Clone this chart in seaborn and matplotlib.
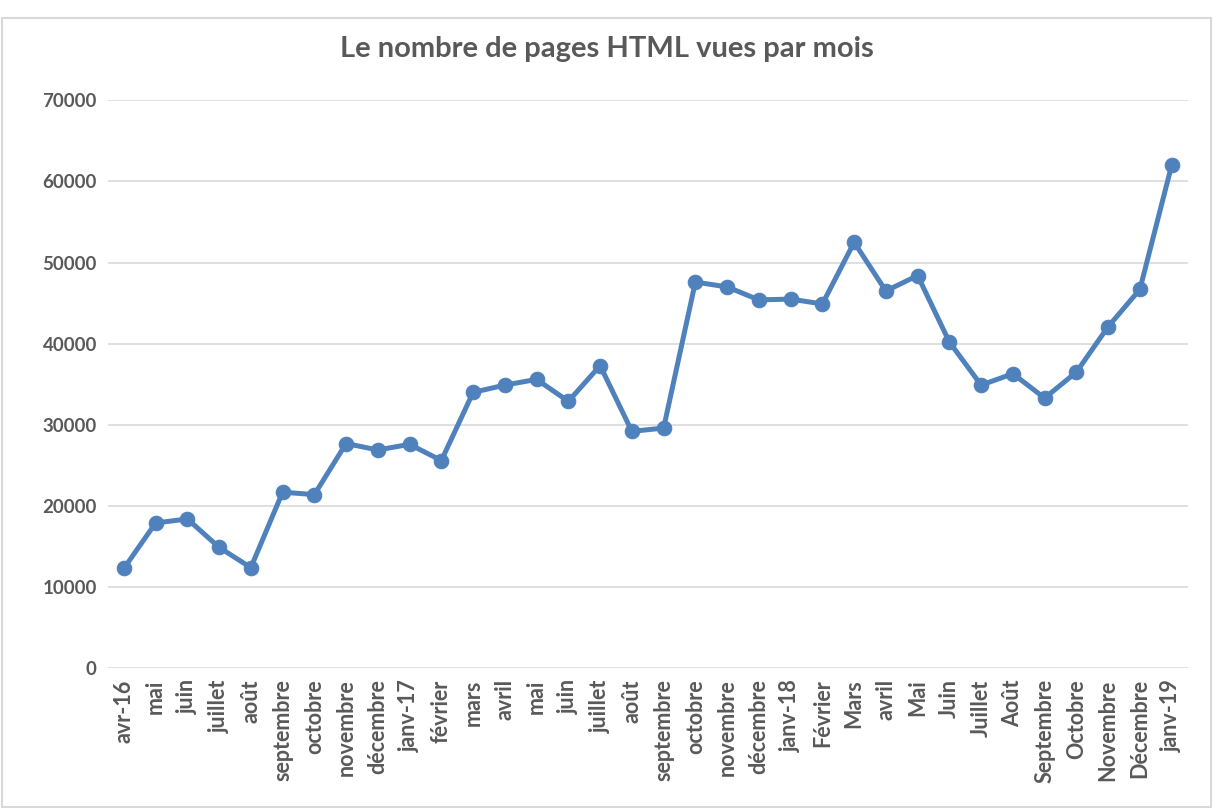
import matplotlib
matplotlib.use('Agg')
import pandas as pd
import seaborn as sns
import matplotlib.pyplot as plt
from matplotlib.patches import Rectangle

# Mois (axe des catégories)
mois = ['avr-16', 'mai', 'juin', 'juillet', 'août', 'septembre', 'octobre',
        'novembre', 'décembre', 'janv-17', 'février', 'mars', 'avril', 'mai',
        'juin', 'juillet', 'août', 'septembre', 'octobre', 'novembre',
        'décembre', 'janv-18', 'Février', 'Mars', 'avril', 'Mai', 'Juin',
        'Juillet', 'Août', 'Septembre', 'Octobre', 'Novembre', 'Décembre',
        'janv-19']

# Pages HTML vues
pages_vues = [12300, 17900, 18400, 14900, 12400, 21700, 21400,
              27700, 26900, 27600, 25600, 34000, 34900, 35600,
              32900, 37300, 29200, 29600, 47600, 47000,
              45400, 45500, 44900, 52500, 46500, 48400, 40200,
              34900, 36300, 33300, 36500, 42100, 46700,
              62000]

yticks = [0, 10000, 20000, 30000, 40000, 50000, 60000, 70000]

df = pd.DataFrame({'pos': range(len(mois)), 'vues': pages_vues})

sns.set_style('white')
plt.rcParams['font.family'] = ['Lato', 'DejaVu Sans']
gris = '#595959'

fig = plt.figure(figsize=(12.13, 8.09), dpi=100)
ax = fig.add_axes([0.089, 0.174, 0.89, 0.702])

sns.lineplot(data=df, x='pos', y='vues', ax=ax, color='#4F81BD', linewidth=3.6,
             marker='o', markersize=10.5, markeredgecolor='#4F81BD')

ax.set_xlim(-0.5, len(mois) - 0.5)
ax.set_ylim(0, 70000)
ax.set_yticks(yticks)
ax.set_yticklabels([str(v) for v in yticks], fontsize=13.5, fontweight='bold', color=gris)
ax.set_xticks(range(len(mois)))
ax.set_xticklabels(mois, rotation=90, fontsize=15.5, fontweight='bold', color=gris)
ax.tick_params(axis='both', length=0, pad=8)
ax.yaxis.grid(True, color='#D9D9D9', linewidth=1.2)
ax.set_axisbelow(True)
for s in ax.spines.values():
    s.set_visible(False)
ax.set_xlabel('')
ax.set_ylabel('')

fig.suptitle('Le nombre de pages HTML vues par mois', y=0.955, fontsize=21,
             fontweight='bold', color=gris)

# Cadre du graphique
fig.patches.append(Rectangle((0.002, 0.002), 0.996, 0.976, transform=fig.transFigure,
                             fill=False, edgecolor='#D9D9D9', linewidth=1.5))

plt.savefig('out.png', dpi=100)
